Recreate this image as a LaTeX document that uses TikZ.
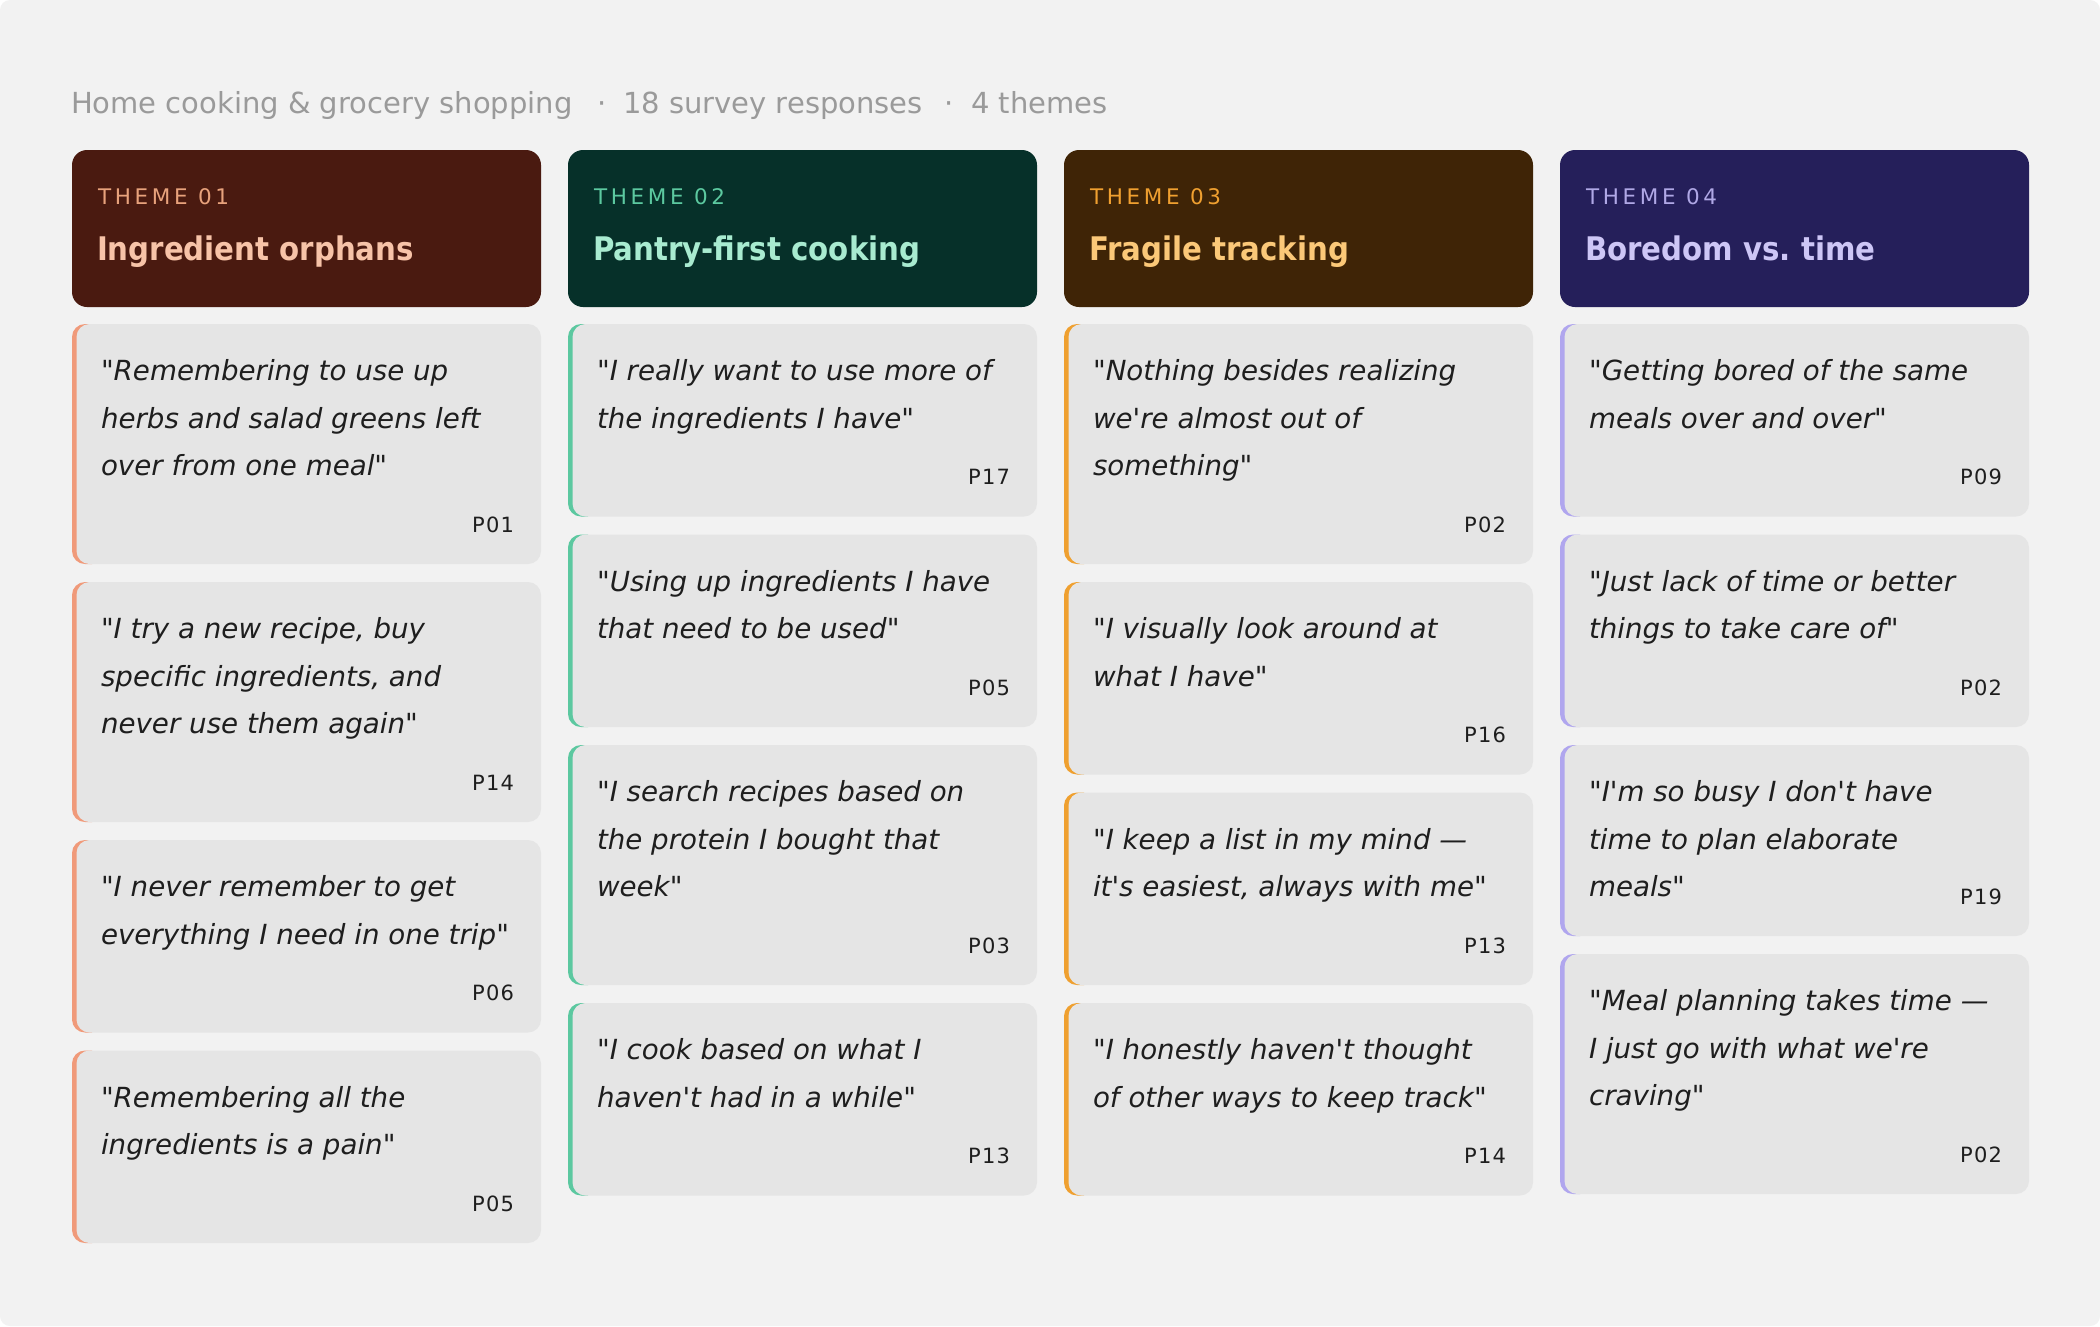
\documentclass[tikz,border=0pt]{standalone}
\usepackage{fontspec}
\setmainfont{DejaVu Sans}[Ligatures=TeXOff, ItalicFont={DejaVu Sans Oblique}]
\newfontfamily\semifont{DejaVu Sans Bold}[FakeStretch=0.9]
\newfontfamily\spacedfont{DejaVu Sans}[LetterSpace=17]
\newfontfamily\pfont{DejaVu Sans}[LetterSpace=6]

\definecolor{pagebg}{HTML}{F2F2F2}
\definecolor{cardbg}{HTML}{E5E5E5}
\definecolor{subgray}{HTML}{9A9A9A}
\definecolor{quoteink}{HTML}{1E1E1E}
\definecolor{hbgA}{HTML}{4A1A10}
\definecolor{hbgB}{HTML}{063029}
\definecolor{hbgC}{HTML}{3F2406}
\definecolor{hbgD}{HTML}{251F5A}
\definecolor{lblA}{HTML}{E8A27C}
\definecolor{lblB}{HTML}{5CC9A0}
\definecolor{lblC}{HTML}{F0A030}
\definecolor{lblD}{HTML}{B0A8E6}
\definecolor{ttlA}{HTML}{F7C3A8}
\definecolor{ttlB}{HTML}{A8EBD0}
\definecolor{ttlC}{HTML}{FBC878}
\definecolor{ttlD}{HTML}{CDC6F6}
\definecolor{accA}{HTML}{F09A7A}
\definecolor{accB}{HTML}{5CC8A0}
\definecolor{accC}{HTML}{EFA030}
\definecolor{accD}{HTML}{B0A6EE}

\tikzset{
  qtext/.style={font=\fontsize{27.7}{33}\selectfont\itshape, text=quoteink, inner sep=0pt, outer sep=0pt, anchor=base west},
  ptext/.style={font=\pfont\fontsize{21}{25}\selectfont, text=quoteink, inner sep=0pt, outer sep=0pt, anchor=base east},
  lbl/.style={font=\spacedfont\fontsize{21.5}{26}\selectfont, inner sep=0pt, outer sep=0pt, anchor=base west},
  ttl/.style={font=\semifont\fontsize{32.5}{40}\selectfont, inner sep=0pt, outer sep=0pt, anchor=base west},
  sub/.style={font=\fontsize{29}{35}\selectfont, text=subgray, inner sep=0pt, outer sep=0pt, anchor=base west},
  hdr/.style={rectangle, rounded corners=15pt, minimum width=469pt, minimum height=157pt, inner sep=0pt, outer sep=0pt, anchor=north west, draw=none},
}

% #1 name, #2 left x, #3 top y, #4 bottom y, #5 accent, #6 attribution, #7 attribution baseline, #8 lines
\newcommand{\qcard}[8]{%
  \begin{scope}
    \clip (#2-2,#3-2) rectangle (#2+20,#4+2);
    \fill[#5, rounded corners=13pt] (#2,#3) rectangle (#2+469,#4);
  \end{scope}
  \fill[cardbg, rounded corners=13pt] (#2+4.5,#3) rectangle (#2+469,#4);
  \foreach \ln [count=\i] in {#8}{
    \node[qtext] (#1l\i) at (#2+29,#3+9+47.5*\i) {\ln};
  }
  \node[ptext] (#1p) at (#2+469-27,#7) {#6};
}

% #1 name, #2 left x, #3 bg, #4 label colour, #5 title colour, #6 label, #7 title
\newcommand{\themehead}[7]{%
  \node[hdr, fill=#3] (#1) at (#2,150) {};
  \node[lbl, text=#4] (#1lab) at (#2+26,204) {#6};
  \node[ttl, text=#5] (#1ttl) at (#2+25,260) {#7};
}

\begin{document}
\begin{tikzpicture}[x=1pt, y=-1pt]
\useasboundingbox (0,0) rectangle (2100,1326);
\fill[white] (0,0) rectangle (2100,1326);
\fill[pagebg, rounded corners=10pt] (0,0) rectangle (2100,1326);

% subtitle
\node[sub] (s1) at (71,113) {Home cooking \& grocery shopping};
\node[sub, anchor=base] (d1) at (602,113) {·};
\node[sub] (s2) at (623,113) {18 survey responses};
\node[sub, anchor=base] (d2) at (949,113) {·};
\node[sub] (s3) at (971,113) {4 themes};

% theme headers
\themehead{hA}{72}{hbgA}{lblA}{ttlA}{THEME 01}{Ingredient orphans}
\themehead{hB}{568}{hbgB}{lblB}{ttlB}{THEME 02}{Pantry-first cooking}
\themehead{hC}{1064}{hbgC}{lblC}{ttlC}{THEME 03}{Fragile tracking}
\themehead{hD}{1560}{hbgD}{lblD}{ttlD}{THEME 04}{Boredom vs.\ time}

% column 1
\qcard{cA1}{72}{324}{564}{accA}{P01}{532}{{"Remembering to use up},{herbs and salad greens left},{over from one meal"}}
\qcard{cA2}{72}{582}{822}{accA}{P14}{790}{{"I try a new recipe, buy},{specific ingredients, and},{never use them again"}}
\qcard{cA3}{72}{840}{1032.5}{accA}{P06}{1000.5}{{"I never remember to get},{everything I need in one trip"}}
\qcard{cA4}{72}{1050.5}{1243}{accA}{P05}{1211}{{"Remembering all the},{ingredients is a pain"}}

% column 2
\qcard{cB1}{568}{324}{516.5}{accB}{P17}{484.5}{{"I really want to use more of},{the ingredients I have"}}
\qcard{cB2}{568}{534.5}{727}{accB}{P05}{695}{{"Using up ingredients I have},{that need to be used"}}
\qcard{cB3}{568}{745}{985}{accB}{P03}{953}{{"I search recipes based on},{the protein I bought that},{week"}}
\qcard{cB4}{568}{1003}{1195.5}{accB}{P13}{1163.5}{{"I cook based on what I},{haven't had in a while"}}

% column 3
\qcard{cC1}{1064}{324}{564}{accC}{P02}{532}{{"Nothing besides realizing},{we're almost out of},{something"}}
\qcard{cC2}{1064}{582}{774.5}{accC}{P16}{742.5}{{"I visually look around at},{what I have"}}
\qcard{cC3}{1064}{792.5}{985}{accC}{P13}{953}{{"I keep a list in my mind —},{it's easiest, always with me"}}
\qcard{cC4}{1064}{1003}{1195.5}{accC}{P14}{1163.5}{{"I honestly haven't thought},{of other ways to keep track"}}

% column 4
\qcard{cD1}{1560}{324}{516.5}{accD}{P09}{484.5}{{"Getting bored of the same},{meals over and over"}}
\qcard{cD2}{1560}{534.5}{727}{accD}{P02}{695}{{"Just lack of time or better},{things to take care of"}}
\qcard{cD3}{1560}{745}{936}{accD}{P19}{904}{{"I'm so busy I don't have},{time to plan elaborate},{meals"}}
\qcard{cD4}{1560}{954}{1194}{accD}{P02}{1162}{{"Meal planning takes time —},{I just go with what we're},{craving"}}
\end{tikzpicture}
\end{document}
